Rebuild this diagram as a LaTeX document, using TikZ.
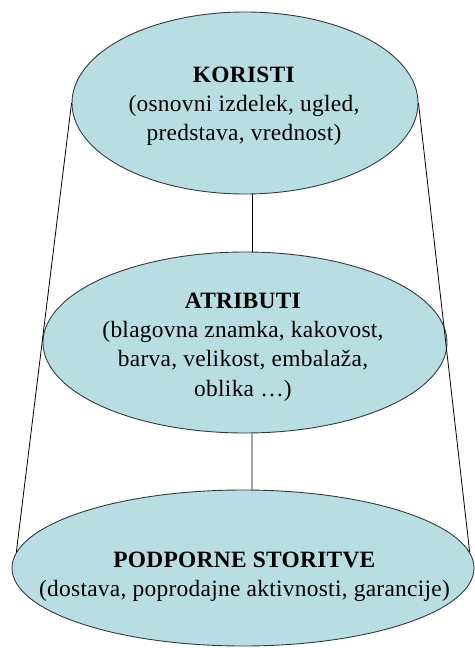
\documentclass[tikz,border=0pt]{standalone}
\usepackage{fontspec}
\setmainfont{Liberation Serif}[LetterSpace=1.2]
\usetikzlibrary{shapes.geometric}
\definecolor{layerfill}{RGB}{184,222,228}
\definecolor{layeredge}{RGB}{50,60,62}
\tikzset{
  layer/.style={ellipse, draw=layeredge, line width=0.9bp, fill=layerfill, inner sep=0pt},
  layertext/.style={anchor=north, inner sep=0pt, align=center,
    font=\fontsize{23.5}{29.5}\selectfont},
  link/.style={draw=black, line width=0.8bp}
}
\begin{document}
\begin{tikzpicture}[x=1bp, y=-1bp]
  \useasboundingbox (0,0) rectangle (475,648);

  % the three product levels, core on top
  \node[layer, minimum width=346bp, minimum height=182bp] (top) at (245,103) {};
  \node[layer, minimum width=404bp, minimum height=181bp] (mid) at (245,342.5) {};
  \node[layer, minimum width=462bp, minimum height=156bp] (bot) at (243,568) {};

  % links between the levels
  \draw[link] ([xshift=7bp]top.south) -- ([xshift=7bp]mid.north);
  \draw[link] ([xshift=7bp]mid.south) -- ([xshift=9bp]bot.north);
  \draw[link] (top.west) -- (bot.176.7);
  \draw[link] (top.east) -- (bot.4.5);

  % labels
  \node[layertext] (topText) at (244,66.4)
    {\textbf{KORISTI}\\(osnovni izdelek, ugled,\\predstava, vrednost)};
  \node[layertext] (midText) at (243,292.4)
    {\textbf{ATRIBUTI}\\(blagovna znamka, kakovost,\\barva, velikost, embalaža,\\oblika \ldots)};
  \node[layertext] (botText) at (244.5,551.4)
    {\textbf{PODPORNE STORITVE}\\(dostava, poprodajne aktivnosti, garancije)};
\end{tikzpicture}
\end{document}
